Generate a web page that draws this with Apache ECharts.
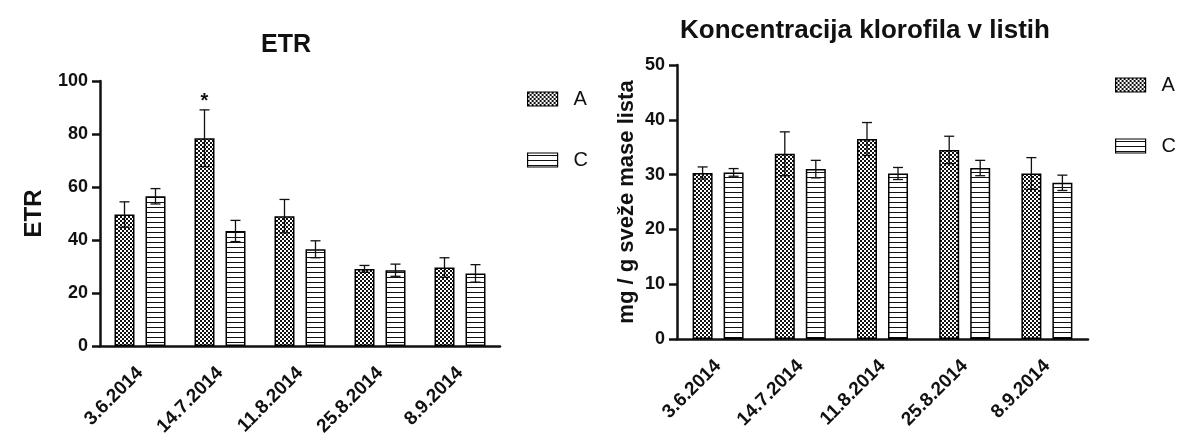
<!DOCTYPE html>
<html>
<head>
<meta charset="utf-8">
<script src="https://cdn.jsdelivr.net/npm/echarts@6/dist/echarts.min.js"></script>
<style>
  html, body { margin: 0; padding: 0; background: #fff; }
  #chart { width: 1181px; height: 446px; }
</style>
</head>
<body>
<div id="chart"></div>
<script>
// Sampling dates (shared by both panels)
const dates = ['3.6.2014', '14.7.2014', '11.8.2014', '25.8.2014', '8.9.2014'];

// ETR: means and error (SD) per treatment
const etrA = [49.6, 78.4, 49.0, 29.1, 29.6];
const etrAErr = [4.8, 10.7, 6.3, 1.3, 3.7];
const etrC = [56.5, 43.4, 36.5, 28.6, 27.4];
const etrCErr = [2.9, 4.0, 3.2, 2.3, 3.3];
const etrSig = ['', '*', '', '', ''];

// Chlorophyll concentration (mg / g fresh leaf mass)
const chlA = [30.3, 33.8, 36.5, 34.5, 30.2];
const chlAErr = [1.1, 4.0, 3.0, 2.5, 2.9];
const chlC = [30.4, 31.0, 30.2, 31.2, 28.5];
const chlCErr = [0.7, 1.6, 1.1, 1.4, 1.4];

const etrTicks = { min: 0, max: 100, interval: 20 };
const chlTicks = { min: 0, max: 50, interval: 10 };

const FONT = '"Liberation Sans", Arial, sans-serif';

// Fill patterns: checkerboard for A, horizontal hatching for C
function checkerPattern() {
  const c = document.createElement('canvas');
  c.width = 4; c.height = 4;
  const ctx = c.getContext('2d');
  ctx.fillStyle = '#fff'; ctx.fillRect(0, 0, 4, 4);
  ctx.fillStyle = '#111';
  ctx.fillRect(0, 0, 2, 2); ctx.fillRect(2, 2, 2, 2);
  return c;
}
function hatchPattern() {
  const c = document.createElement('canvas');
  c.width = 4; c.height = 5;
  const ctx = c.getContext('2d');
  ctx.fillStyle = '#fff'; ctx.fillRect(0, 0, 4, 5);
  ctx.fillStyle = '#111'; ctx.fillRect(0, 2, 4, 1);
  return c;
}
const fillA = { image: checkerPattern(), repeat: 'repeat' };
const fillC = { image: hatchPattern(), repeat: 'repeat' };

function barSeries(name, data, fill, idx) {
  return {
    name, type: 'bar', xAxisIndex: idx, yAxisIndex: idx,
    data, barWidth: 20, barGap: '55%',
    itemStyle: { color: fill, borderColor: '#000', borderWidth: 1.5 },
    z: 2
  };
}

// Error bars drawn at the bar's horizontal offset within the category
function errSeries(name, vals, errs, offset, idx, marks) {
  return {
    name, type: 'custom', xAxisIndex: idx, yAxisIndex: idx,
    data: vals.map((v, i) => [i, v, errs[i]]),
    encode: { x: 0, y: 1 },
    z: 5,
    renderItem(params, api) {
      const i = api.value(0), v = api.value(1), e = api.value(2);
      const x = api.coord([i, v])[0] + offset;
      const yHi = api.coord([i, v + e])[1];
      const yLo = api.coord([i, v - e])[1];
      const st = { stroke: '#111', lineWidth: 1.3 };
      const cap = 5;
      const children = [
        { type: 'line', shape: { x1: x, y1: yLo, x2: x, y2: yHi }, style: st },
        { type: 'line', shape: { x1: x - cap, y1: yHi, x2: x + cap, y2: yHi }, style: st },
        { type: 'line', shape: { x1: x - cap, y1: yLo, x2: x + cap, y2: yLo }, style: st }
      ];
      const mark = marks ? marks[params.dataIndex] : '';
      if (mark) {
        children.push({
          type: 'text',
          style: { text: mark, x: x, y: yHi - 18, textAlign: 'center', textVerticalAlign: 'top',
                   font: 'bold 20px ' + FONT, fill: '#111' }
        });
      }
      return { type: 'group', children };
    }
  };
}

const axisLine = { lineStyle: { color: '#111', width: 2.5 } };
const axisTick = { length: 8, lineStyle: { color: '#111', width: 2.5 } };

function xAxis(idx) {
  return {
    type: 'category', gridIndex: idx, data: dates,
    axisLine, axisTick: Object.assign({ alignWithLabel: true }, axisTick),
    axisLabel: { rotate: 45, margin: 24, color: '#111', fontFamily: FONT, fontWeight: 'bold', fontSize: 19 },
    splitLine: { show: false }
  };
}
function yAxis(idx, ticks, name, nameGap, nameSize) {
  return {
    type: 'value', gridIndex: idx, min: ticks.min, max: ticks.max, interval: ticks.interval,
    name, nameLocation: 'middle', nameGap,
    nameTextStyle: { color: '#111', fontFamily: FONT, fontWeight: 'bold', fontSize: nameSize },
    axisLine: Object.assign({ show: true }, axisLine),
    axisTick: Object.assign({ show: true }, axisTick),
    axisLabel: { margin: 12, color: '#111', fontFamily: FONT, fontWeight: 'bold', fontSize: 18 },
    splitLine: { show: false }
  };
}

function legend(left, top) {
  return {
    data: [{ name: 'A', icon: 'rect' }, { name: 'C', icon: 'rect' }],
    orient: 'vertical', left, top, padding: 0,
    itemWidth: 30, itemHeight: 14, itemGap: 41,
    itemStyle: { borderColor: '#000', borderWidth: 1.2 },
    textStyle: { color: '#111', fontFamily: FONT, fontSize: 20, lineHeight: 20, padding: [0, 0, 0, 11] },
    selectedMode: false
  };
}

const chart = echarts.init(document.getElementById('chart'), null, { renderer: 'canvas' });
chart.setOption({
  backgroundColor: '#fff',
  animation: false,
  title: [
    { text: 'ETR', left: 281, top: 28, textAlign: 'center',
      textStyle: { fontFamily: FONT, fontWeight: 'bold', fontSize: 25, color: '#111' } },
    { text: 'Koncentracija klorofila v listih', left: 860, top: 13, textAlign: 'center',
      textStyle: { fontFamily: FONT, fontWeight: 'bold', fontSize: 26, color: '#111' } }
  ],
  legend: [legend(527, 89), legend(1115, 75)],
  grid: [
    { left: 100, right: 681, top: 81, bottom: 100 },
    { left: 677, right: 93, top: 65, bottom: 107 }
  ],
  xAxis: [xAxis(0), xAxis(1)],
  yAxis: [
    yAxis(0, etrTicks, 'ETR', 54, 24),
    yAxis(1, chlTicks, 'mg / g sveže mase lista', 39, 22)
  ],
  series: [
    barSeries('A', etrA, fillA, 0),
    barSeries('C', etrC, fillC, 0),
    errSeries('A', etrA, etrAErr, -15.5, 0, etrSig),
    errSeries('C', etrC, etrCErr, 15.5, 0, null),
    barSeries('A', chlA, fillA, 1),
    barSeries('C', chlC, fillC, 1),
    errSeries('A', chlA, chlAErr, -15.5, 1, null),
    errSeries('C', chlC, chlCErr, 15.5, 1, null)
  ]
});
</script>
</body>
</html>
